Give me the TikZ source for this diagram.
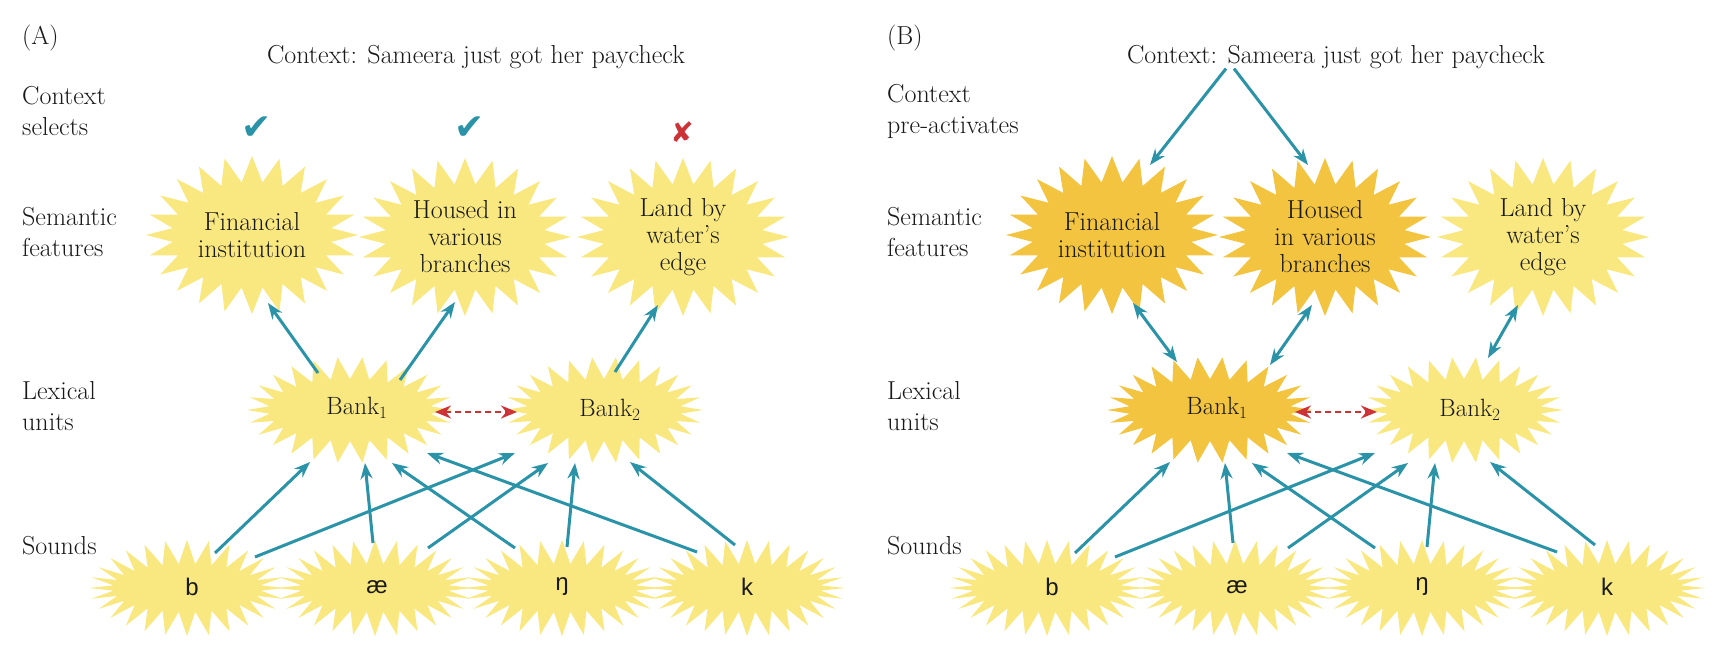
\documentclass[tikz,border=0pt]{standalone}
\usepackage{fontspec}
\newfontfamily\symfont{DejaVu Sans}
\newfontfamily\sndfont{Liberation Sans}
\usetikzlibrary{arrows.meta,calc}
\definecolor{burstlight}{RGB}{249,232,128}
\definecolor{burstdark}{RGB}{243,196,64}
\definecolor{arrowteal}{RGB}{42,147,168}
\definecolor{inhibred}{RGB}{205,50,55}
\definecolor{textgray}{RGB}{25,25,25}
% x, y, a, b, spike depth, colour, number of points (twice the spikes)
\newcommand{\drawburst}[7]{%
  \pgfmathsetmacro{\burststep}{360/#7}%
  \pgfmathtruncatemacro{\burstlast}{#7-1}%
  \fill[#6] ({#1+#3},#2) \foreach \i [evaluate=\i as \f using {mod(\i,2)}] in {1,...,\burstlast}
    { -- ({#1+(#3-\f*#5)*cos(\i*\burststep)},{#2+(#4-\f*#5)*sin(\i*\burststep)}) } -- cycle;}
\tikzset{
  lbl/.style={font=\fontsize{26}{31}\selectfont, text=textgray, align=left, anchor=west, inner sep=0pt},
  title/.style={font=\fontsize{26}{31}\selectfont, text=textgray, anchor=base, inner sep=0pt},
  feat/.style={font=\fontsize{26}{27}\selectfont, text=textgray, align=center, inner sep=0pt},
  lex/.style={font=\fontsize{25}{28}\selectfont, text=textgray, inner sep=0pt},
  snd/.style={font=\sndfont\fontsize{24}{28}\selectfont, text=textgray, inner sep=0pt},
  okmark/.style={font=\symfont\fontsize{36}{36}\selectfont, text=arrowteal, inner sep=0pt},
  nomark/.style={font=\symfont\fontsize{28}{28}\selectfont, text=inhibred, inner sep=0pt},
  arr/.style={draw=arrowteal, line width=3pt, -{Stealth[length=16pt,width=12pt]}},
  biarr/.style={draw=arrowteal, line width=3pt, {Stealth[length=16pt,width=12pt]}-{Stealth[length=16pt,width=12pt]}},
  inhib/.style={draw=inhibred, line width=2.5pt, dash pattern=on 6pt off 4pt,
    {Stealth[open,length=16pt,width=13pt]}-{Stealth[open,length=16pt,width=13pt]}},
}
\begin{document}
\begin{tikzpicture}[x=1pt,y=-1pt]
\fill[white] (0,0) rectangle (1726,656);
\useasboundingbox (0,0) rectangle (1726,656);

%%%%%%%%%%%%%%%% Panel A
\drawburst{252}{235}{106}{79}{26}{burstlight}{48}
\drawburst{465}{237}{106}{79}{26}{burstlight}{48}
\drawburst{683}{237}{106}{79}{26}{burstlight}{48}
\drawburst{350}{410}{103}{53}{22}{burstlight}{52}
\drawburst{604}{410}{99}{53}{22}{burstlight}{52}
\drawburst{187}{588}{98}{48}{24}{burstlight}{56}
\drawburst{375}{588}{98}{48}{24}{burstlight}{56}
\drawburst{562}{588}{98}{48}{24}{burstlight}{56}
\drawburst{747}{588}{98}{48}{24}{burstlight}{56}

\node[lbl] (panA) at (22,38) {(A)};
\node[title] (ctxA) at (476,63) {Context: Sameera just got her paycheck};
\node[lbl] (l1A) at (22,111) {Context\\selects};
\node[lbl] (l2A) at (22,232) {Semantic\\features};
\node[lbl] (l3A) at (22,406) {Lexical\\units};
\node[lbl] (l4A) at (22,546) {Sounds};
\node[okmark] (ck1A) at (257,128) {✔};
\node[okmark] (ck2A) at (470,128) {✔};
\node[nomark] (crA) at (682,132) {✘};
\node[feat] (finA) at (252,235) {Financial\\institution};
\node[feat] (houA) at (465,237) {Housed in\\various\\branches};
\node[feat] (lanA) at (683,237) {Land by\\water’s\\edge};
\node[lex] (bkoA) at (357,408) {Bank$_1$};
\node[lex] (bktA) at (610,410) {Bank$_2$};
\node[snd] (sbA) at (192,587) {b};
\node[snd] (saA) at (377,587) {æ};
\node[snd] (snA) at (562,587) {ŋ};
\node[snd] (skA) at (747,587) {k};

\draw[arr] ($(bkoA)+(-39,-35)$) -- ($(finA)+(16,68)$);
\draw[arr] ($(bkoA)+(43,-28)$) -- ($(houA)+(-10,65)$);
\draw[arr] ($(bktA)+(5,-38)$) -- ($(lanA)+(-25,68)$);
\draw[arr] ($(sbA)+(23,-34)$) -- ($(bkoA)+(-47,54)$);
\draw[arr] ($(sbA)+(63,-30)$) -- ($(bktA)+(-95,43)$);
\draw[arr] ($(saA)+(-4,-44)$) -- ($(bkoA)+(8,55)$);
\draw[arr] ($(saA)+(51,-39)$) -- ($(bktA)+(-62,53)$);
\draw[arr] ($(snA)+(-47,-39)$) -- ($(bkoA)+(35,55)$);
\draw[arr] ($(snA)+(5,-40)$) -- ($(bktA)+(-35,53)$);
\draw[arr] ($(skA)+(-50,-35)$) -- ($(bkoA)+(70,45)$);
\draw[arr] ($(skA)+(-12,-42)$) -- ($(bktA)+(20,52)$);
\draw[inhib] ($(bkoA)+(78,4)$) -- ($(bktA)+(-93,2)$);

%%%%%%%%%%%%%%%% Panel B
\begin{scope}[xshift=860pt]
\drawburst{252}{235}{106}{79}{26}{burstdark}{48}
\drawburst{465}{237}{106}{79}{26}{burstdark}{48}
\drawburst{683}{237}{106}{79}{26}{burstlight}{48}
\drawburst{350}{410}{103}{53}{22}{burstdark}{52}
\drawburst{604}{410}{99}{53}{22}{burstlight}{52}
\drawburst{187}{588}{98}{48}{24}{burstlight}{56}
\drawburst{375}{588}{98}{48}{24}{burstlight}{56}
\drawburst{562}{588}{98}{48}{24}{burstlight}{56}
\drawburst{747}{588}{98}{48}{24}{burstlight}{56}

\node[lbl] (panB) at (27,38) {(B)};
\node[title] (ctxB) at (476,63) {Context: Sameera just got her paycheck};
\node[lbl] (l1B) at (27,111) {Context\\pre-activates};
\node[lbl] (l2B) at (27,232) {Semantic\\features};
\node[lbl] (l3B) at (27,406) {Lexical\\units};
\node[lbl] (l4B) at (27,546) {Sounds};
\node[feat] (finB) at (252,235) {Financial\\institution};
\node[feat] (houB) at (465,237) {Housed\\in various\\branches};
\node[feat] (lanB) at (683,237) {Land by\\water’s\\edge};
\node[lex] (bkoB) at (357,408) {Bank$_1$};
\node[lex] (bktB) at (610,410) {Bank$_2$};
\node[snd] (sbB) at (192,587) {b};
\node[snd] (saB) at (377,587) {æ};
\node[snd] (snB) at (562,587) {ŋ};
\node[snd] (skB) at (747,587) {k};

\draw[arr] ($(ctxB)+(-110,12)$) -- ($(finB)+(38,-70)$);
\draw[arr] ($(ctxB)+(-102,12)$) -- ($(houB)+(-17,-72)$);
\draw[biarr] ($(finB)+(21,68)$) -- ($(bkoB)+(-40,-46)$);
\draw[biarr] ($(houB)+(-13,68)$) -- ($(bkoB)+(53,-43)$);
\draw[biarr] ($(lanB)+(-25,68)$) -- ($(bktB)+(18,-52)$);
\draw[arr] ($(sbB)+(23,-34)$) -- ($(bkoB)+(-47,54)$);
\draw[arr] ($(sbB)+(63,-30)$) -- ($(bktB)+(-95,43)$);
\draw[arr] ($(saB)+(-4,-44)$) -- ($(bkoB)+(8,55)$);
\draw[arr] ($(saB)+(51,-39)$) -- ($(bktB)+(-62,53)$);
\draw[arr] ($(snB)+(-47,-39)$) -- ($(bkoB)+(35,55)$);
\draw[arr] ($(snB)+(5,-40)$) -- ($(bktB)+(-35,53)$);
\draw[arr] ($(skB)+(-50,-35)$) -- ($(bkoB)+(70,45)$);
\draw[arr] ($(skB)+(-12,-42)$) -- ($(bktB)+(20,52)$);
\draw[inhib] ($(bkoB)+(78,4)$) -- ($(bktB)+(-93,2)$);
\end{scope}
\end{tikzpicture}
\end{document}
